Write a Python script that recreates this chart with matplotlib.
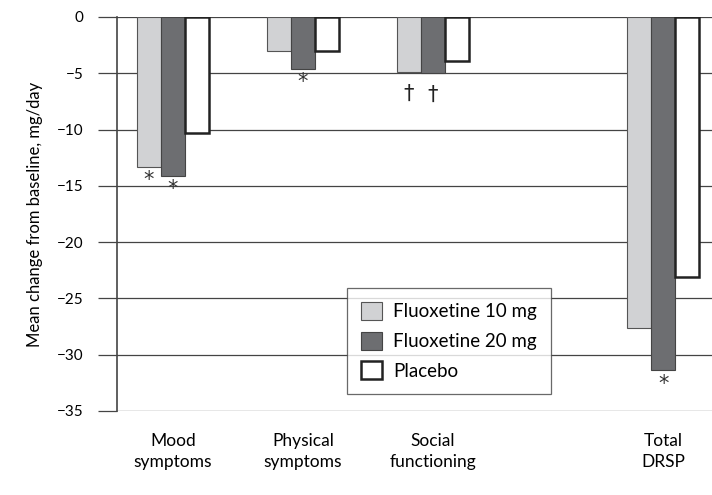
import numpy as np
import matplotlib.pyplot as plt

categories = ["Mood\nsymptoms", "Physical\nsymptoms", "Social\nfunctioning", "Total\nDRSP"]
fluox10 = [-13.3, -3.0, -4.9, -27.6]
fluox20 = [-14.1, -4.6, -5.0, -31.4]
placebo = [-10.3, -3.0, -3.9, -23.1]
# significance marks: (category index, series index, symbol)
marks = [(0, 0, "*"), (0, 1, "*"), (1, 1, "*"), (2, 0, "\u2020"), (2, 1, "\u2020"), (3, 1, "*")]

plt.rcParams['font.family'] = ['Lato', 'DejaVu Sans']

x = np.array([0, 1, 2, 3.77])
w = 0.185

fig = plt.figure(figsize=(7.12, 4.95), dpi=100)
ax = fig.add_axes([117 / 712, 1 - 411 / 495, 1 - 117 / 712, 394 / 495])

light = "#d1d2d4"
dark = "#6d6e71"
ax.bar(x - w, fluox10, w, color=light, edgecolor="#555555", linewidth=0.8, label="Fluoxetine 10 mg", zorder=3)
ax.bar(x, fluox20, w, color=dark, edgecolor="#444444", linewidth=0.8, label="Fluoxetine 20 mg", zorder=3)
ax.bar(x + w, placebo, w, color="white", edgecolor="#222222", linewidth=1.8, label="Placebo", zorder=3)

series = [fluox10, fluox20, placebo]
for ci, si, sym in marks:
    val = series[si][ci]
    xx = x[ci] + (si - 1) * w
    if sym == "*":
        ax.text(xx, val - 0.3, sym, ha="center", va="top", fontsize=15, color="#333333",
                family="DejaVu Sans")
    else:
        ax.text(xx, val - 1.0, sym, ha="center", va="top", fontsize=15, color="#222222",
                family="DejaVu Sans")

ax.set_ylim(-35, 0)
ax.set_xlim(-0.43, 4.146)
ax.set_yticks(np.arange(-35, 1, 5))
ax.set_yticklabels([str(v).replace("-", "\u2212") for v in np.arange(-35, 1, 5)])
ax.yaxis.grid(True, color="#444444", linewidth=0.9, zorder=0)
ax.tick_params(axis="y", length=14, width=0.9, color="#444444", labelsize=11, pad=10)
ax.set_xticks(x)
ax.set_xticklabels(categories, fontsize=12.5, linespacing=1.35)
ax.tick_params(axis="x", length=0, pad=16)
for s in ["top", "right", "bottom"]:
    ax.spines[s].set_visible(False)
ax.spines["left"].set_color("#444444")
ax.spines["left"].set_linewidth(1.2)
ax.set_ylabel("Mean change from baseline, mg/day", fontsize=12, labelpad=10)

leg = ax.legend(loc="upper left", bbox_to_anchor=((347 - 117) / 595, (411 - 288) / 394),
                borderaxespad=0, frameon=True, fancybox=False, fontsize=13.5,
                handlelength=1.1, handleheight=1.1,
                borderpad=0.75, labelspacing=0.6, handletextpad=0.6)
leg.get_frame().set_edgecolor("#444444")
leg.get_frame().set_linewidth(0.9)

fig.savefig("out.png", dpi=100)
